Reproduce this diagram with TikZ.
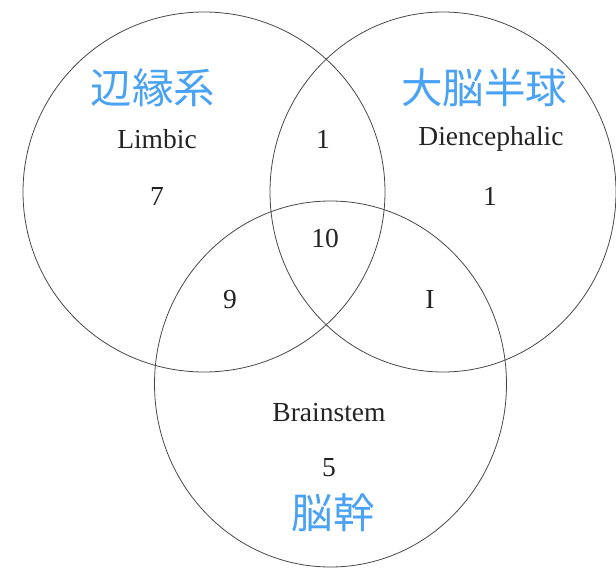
\documentclass[tikz,border=0pt]{standalone}
\usepackage{fontspec}
\setmainfont{Liberation Serif}
\newfontfamily\jpfont{Noto Sans CJK JP}
\definecolor{labelblue}{RGB}{74,162,245}
\definecolor{ink}{RGB}{35,35,35}
\tikzset{
  vset/.style={draw=black!72, line width=0.8pt},
  eng/.style={text=ink, font=\fontsize{27.5}{30}\selectfont, inner sep=0pt},
  num/.style={text=ink, font=\fontsize{27.5}{30}\selectfont, inner sep=0pt},
  jp/.style={text=labelblue, font=\jpfont\fontsize{41.5}{45}\selectfont, inner sep=0pt}
}
\begin{document}
\begin{tikzpicture}[x=1pt,y=-1pt]
\useasboundingbox (0,0) rectangle (616,570);
% sets
\draw[vset] (204,192) ellipse [x radius=181, y radius=180];
\draw[vset] (443,192) ellipse [x radius=173, y radius=180];
\draw[vset] (330.5,384) ellipse [x radius=176, y radius=183];
% Japanese labels
\node[jp] (jlimbic) at (153,88) {辺縁系};
\node[jp] (jdien) at (484,88) {大脳半球};
\node[jp] (jbrain) at (333,513) {脳幹};
% English labels
\node[eng] (limbic) at (157,139) {Limbic};
\node[eng] (dien) at (491,139) {Diencephalic};
\node[eng] (brain) at (329,413) {Brainstem};
% counts
\node[num] (n7) at (157,196) {7};
\node[num] (nld) at (323,139) {1};
\node[num] (nd) at (490,196) {1};
\node[num] (n10) at (325,238) {10};
\node[num] (n9) at (230,300) {9};
\node[num] (nbd) at (430,299) {I};
\node[num] (n5) at (329,468) {5};
\end{tikzpicture}
\end{document}
